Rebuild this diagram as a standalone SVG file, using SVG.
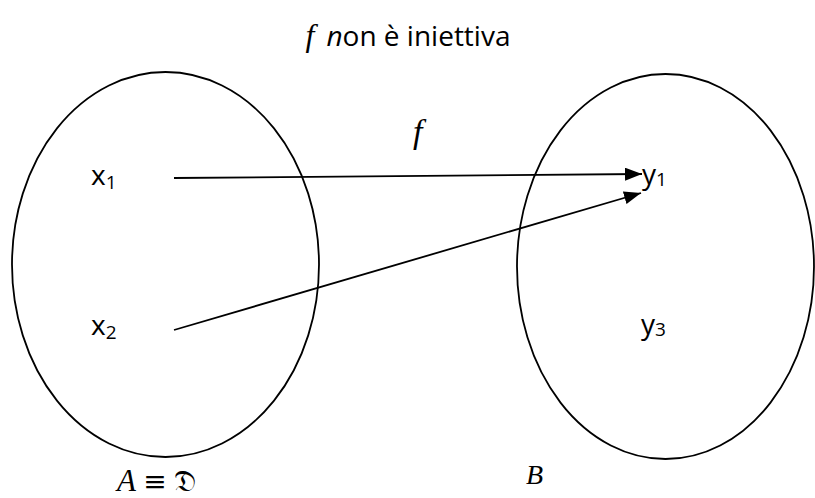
<svg xmlns="http://www.w3.org/2000/svg" width="815" height="498" viewBox="0 0 815 498">
<style>
.set{fill:none;stroke:#000;stroke-width:1.8}
.lbl{font-family:"Open Sans","Liberation Sans",sans-serif;font-size:28px;fill:#000}
.sub{font-size:19px}
.math{font-family:"Liberation Serif","DejaVu Serif",serif;font-style:italic;fill:#000}
.conn{stroke:#000;stroke-width:1.8;fill:none}
</style>
<defs>
<marker id="ah2" viewBox="0 0 17 13" refX="17" refY="6.5" markerWidth="17" markerHeight="13" markerUnits="userSpaceOnUse" orient="auto">
<path d="M0,0 L17,6.5 L0,13 Z" fill="#000"/>
</marker>
</defs>
<text x="408" y="46" text-anchor="middle" style="font-family:'Open Sans','Liberation Sans',sans-serif;font-size:28px"><tspan class="math" style="font-size:32px">f</tspan><tspan dx="12" style="font-style:italic">n</tspan>on è iniettiva</text>
<g id="setA">
<ellipse class="set" cx="165.5" cy="264.5" rx="153.5" ry="192.5"/>
<text x="117" y="491" class="math" style="font-size:31px">A <tspan style="font-style:normal;font-family:'DejaVu Serif',serif;font-size:28px">≡</tspan> <tspan style="font-style:normal;font-family:'DejaVu Serif','Noto Sans',serif;font-size:30px">𝔇</tspan></text>
</g>
<g id="setB">
<ellipse class="set" cx="665.5" cy="266.5" rx="148.5" ry="192.5"/>
<text x="526" y="484" class="math" style="font-size:28px">B</text>
</g>
<g id="x1"><text x="91" y="185" class="lbl">x<tspan class="sub" dy="4">1</tspan></text></g>
<g id="x2"><text x="91" y="335" class="lbl">x<tspan class="sub" dy="4">2</tspan></text></g>
<g id="y1"><text x="642" y="184" class="lbl">y<tspan class="sub" dy="2">1</tspan></text></g>
<g id="y3"><text x="641" y="334" class="lbl">y<tspan class="sub" dy="2">3</tspan></text></g>
<g id="connectors">
<line class="conn" x1="174" y1="178" x2="642" y2="174" marker-end="url(#ah2)"/>
<line class="conn" x1="174" y1="330" x2="641" y2="193" marker-end="url(#ah2)"/>
<text x="413" y="143" class="math" style="font-size:34px">f</text>
</g>
</svg>
